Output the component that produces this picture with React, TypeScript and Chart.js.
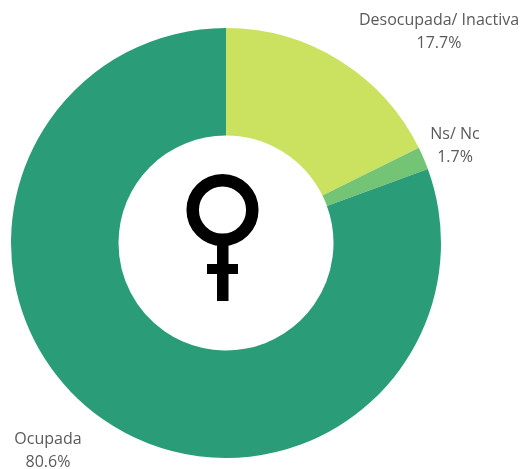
import React, { useEffect, useRef } from "react";
import { Chart, registerables } from "chart.js";

Chart.register(...registerables);

const categories = ["Desocupada/ Inactiva", "Ns/ Nc", "Ocupada"];
const values = [17.7, 1.7, 80.6];
const colors = ["#CBE160", "#74C476", "#2A9D78"];
const labelAnchors = [
  { x: 439, y: 20 },
  { x: 455, y: 134 },
  { x: 48, y: 439 },
];

const labelsPlugin = {
  id: "sliceLabels",
  afterDatasetsDraw(chart: any) {
    const ctx = chart.ctx;
    ctx.save();
    ctx.font = '16px "Open Sans"';
    ctx.fillStyle = "#5a5a5a";
    ctx.textAlign = "center";
    ctx.textBaseline = "middle";
    categories.forEach((name, i) => {
      const a = labelAnchors[i];
      ctx.fillText(name, a.x, a.y);
      ctx.fillText(values[i].toFixed(1) + "%", a.x, a.y + 23);
    });
    ctx.restore();
  },
};

const symbolPlugin = {
  id: "femaleSymbol",
  afterDraw(chart: any) {
    const ctx = chart.ctx;
    ctx.save();
    ctx.strokeStyle = "#000";
    ctx.lineWidth = 12.5;
    ctx.beginPath();
    ctx.arc(222.5, 210, 29.8, 0, Math.PI * 2);
    ctx.stroke();
    ctx.fillStyle = "#000";
    ctx.fillRect(217, 240, 11.5, 61);
    ctx.fillRect(207, 264, 31, 10);
    ctx.restore();
  },
};

export default function App() {
  const ref = useRef<HTMLCanvasElement>(null);
  useEffect(() => {
    const chart = new Chart(ref.current!, {
      type: "doughnut",
      data: {
        labels: categories,
        datasets: [{ data: values, backgroundColor: colors, borderWidth: 0 }],
      },
      options: {
        animation: false,
        responsive: false,
        cutout: "50%",
        layout: { padding: { left: 11, right: 83, top: 28, bottom: 11 } },
        plugins: { legend: { display: false }, tooltip: { enabled: false } },
      },
      plugins: [labelsPlugin, symbolPlugin],
    });
    return () => chart.destroy();
  }, []);
  return (
    <canvas
      ref={ref}
      width={524}
      height={469}
      style={{ position: "fixed", left: 0, top: 0, width: 524, height: 469, background: "#fff" }}
    />
  );
}
